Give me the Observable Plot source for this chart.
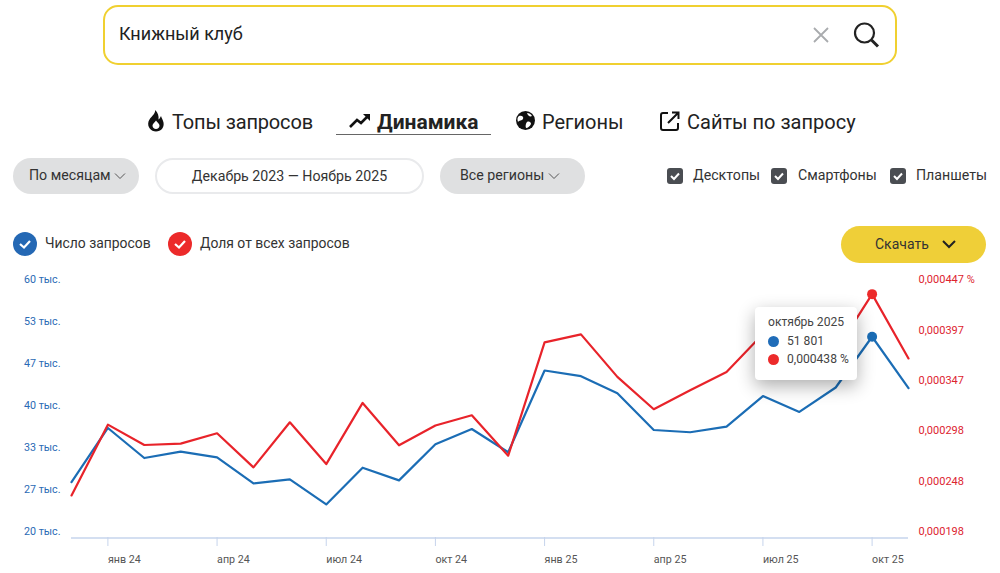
<!DOCTYPE html>
<html lang="ru"><head><meta charset="utf-8">
<script src="https://cdn.jsdelivr.net/npm/d3@7"></script>
<script src="https://cdn.jsdelivr.net/npm/@observablehq/plot@0.6"></script>
<style>
html,body{margin:0;padding:0;background:#fff;width:1000px;height:573px;overflow:hidden;font-family:Roboto,"Noto Sans",sans-serif;color:#222}
#head{position:relative;width:1000px;height:265px}
#wrap{position:relative;width:1000px;height:308px}
#wrap svg{display:block}
.a{position:absolute;white-space:nowrap}
.search{left:103px;top:5px;width:790px;height:56px;border:2px solid #f0d030;border-radius:15px;box-sizing:content-box}
.pill{height:36px;line-height:35px;border-radius:18px;box-sizing:border-box;text-align:center;font-size:14.2px;color:#333}
.gray{background:#dfe0e1}
.white{background:#fff;border:2px solid #e9eaec;line-height:33px}
.tab{font-size:20px;top:109px;line-height:26px;color:#222}
.chk{font-size:14.2px;top:166px;line-height:18px;color:#333}
.box{position:absolute;top:168px;width:16px;height:16px;border-radius:3px;background:#4a4d52}
.lg{top:235px;font-size:13.9px;line-height:16px;color:#333}
.circ{position:absolute;top:232px;width:24px;height:24px;border-radius:50%}
.dl{left:841px;top:226px;width:145px;height:37px;border-radius:19px;background:#efcf38;font-size:14px;line-height:36px;color:#333}
#tip{position:absolute;left:755px;top:42px;width:102px;height:73px;background:#fff;border-radius:4px;box-shadow:0 6px 18px rgba(0,0,0,.32);font-size:12.1px;color:#444}
#tip div{position:absolute;white-space:nowrap}
#tip i{position:absolute;width:11px;height:11px;border-radius:50%}
</style></head><body>
<div id="head">
  <div class="a search"></div>
  <div class="a" style="left:119px;top:22px;font-size:18px;line-height:24px;color:#222">Книжный клуб</div>
  <svg class="a" style="left:812px;top:26px" width="18" height="18" viewBox="0 0 18 18"><path d="M2 2L16 16M16 2L2 16" stroke="#a9abae" stroke-width="1.8"/></svg>
  <svg class="a" style="left:852px;top:21px" width="28" height="28" viewBox="0 0 28 28"><circle cx="12.5" cy="12" r="9.5" fill="none" stroke="#222" stroke-width="2.2"/><path d="M19.5 19L26 25.5" stroke="#222" stroke-width="3"/></svg>

  <svg class="a" style="left:147px;top:110px" width="18" height="22" viewBox="0 0 18 22"><path d="M8 0C9 4 3 7 1.500 11.500C0 17 4 21.500 9 21.500C14 21.500 17.500 17.500 16.500 12.500C16 10 14.500 8 14 6C13 8 12.500 9 11.500 9.500C12 6 11 2.500 8 0ZM9 19C7 19 5.500 17.500 5.500 15.500C5.500 13.500 8 12.500 9 10.500C10 12.500 12.500 13.500 12.500 15.500C12.500 17.500 11 19 9 19Z" fill="#111"/></svg>
  <div class="a tab" style="left:172px;letter-spacing:-.15px">Топы запросов</div>
  <svg class="a" style="left:349px;top:112px" width="22" height="18" viewBox="0 0 22 18"><path d="M1 15L8 8L12 11L19 4" fill="none" stroke="#111" stroke-width="2.600"/><path d="M14 2H21V9Z" fill="#111"/></svg>
  <div class="a tab" style="left:377px;font-weight:700;font-size:21px">Динамика</div>
  <div class="a" style="left:336px;top:134px;width:155px;height:1px;background:#666"></div>
  <svg class="a" style="left:516px;top:111px" width="19" height="19" viewBox="0 0 19 19"><circle cx="9.500" cy="9.500" r="9.500" fill="#111"/><path d="M3 5C6 4 8 6 7 8C6 10 3 9 2 11C1 8 1.500 6 3 5ZM11 11C13 10 15 11 15 13C14 15 12 17 10 17C9 15 10 12 11 11ZM11 2C13 2 15 3 16 5C14 6 12 5 11 2Z" fill="#fff"/></svg>
  <div class="a tab" style="left:542px">Регионы</div>
  <svg class="a" style="left:660px;top:111px" width="20" height="20" viewBox="0 0 20 20"><path d="M8 2H3A2 2 0 0 0 1 4V17A2 2 0 0 0 3 19H16A2 2 0 0 0 18 17V12" fill="none" stroke="#111" stroke-width="2"/><path d="M8 12L18 2M12 1.500H18.500V8" fill="none" stroke="#111" stroke-width="2"/></svg>
  <div class="a tab" style="left:687px">Сайты по запросу</div>

  <div class="a pill gray" style="left:13px;top:158px;width:126px"><span class="a" style="left:16px">По месяцам</span><svg class="a" style="left:101px;top:14px" width="12" height="8" viewBox="0 0 12 8"><path d="M1 1.500L6 6.500L11 1.500" fill="none" stroke="#555" stroke-width="1"/></svg></div>
  <div class="a pill white" style="left:155px;top:158px;width:269px">Декабрь 2023 — Ноябрь 2025</div>
  <div class="a pill gray" style="left:440px;top:158px;width:145px"><span class="a" style="left:20px">Все регионы</span><svg class="a" style="left:108px;top:14px" width="12" height="8" viewBox="0 0 12 8"><path d="M1 1.500L6 6.500L11 1.500" fill="none" stroke="#555" stroke-width="1"/></svg></div>

  <div class="box" style="left:667px"><svg width="16" height="16" viewBox="0 0 16 16"><path d="M4 8L7 11L12 5.500" fill="none" stroke="#fff" stroke-width="2"/></svg></div>
  <div class="a chk" style="left:693px">Десктопы</div>
  <div class="box" style="left:771px"><svg width="16" height="16" viewBox="0 0 16 16"><path d="M4 8L7 11L12 5.500" fill="none" stroke="#fff" stroke-width="2"/></svg></div>
  <div class="a chk" style="left:798px">Смартфоны</div>
  <div class="box" style="left:890px"><svg width="16" height="16" viewBox="0 0 16 16"><path d="M4 8L7 11L12 5.500" fill="none" stroke="#fff" stroke-width="2"/></svg></div>
  <div class="a chk" style="left:916px">Планшеты</div>

  <div class="circ" style="left:13px;background:#2468b4"><svg width="24" height="24" viewBox="0 0 24 24"><path d="M7 12L11 15.500L17 9" fill="none" stroke="#fff" stroke-width="2.200"/></svg></div>
  <div class="a lg" style="left:45px">Число запросов</div>
  <div class="circ" style="left:168px;background:#ec2a2a"><svg width="24" height="24" viewBox="0 0 24 24"><path d="M7 12L11 15.500L17 9" fill="none" stroke="#fff" stroke-width="2.200"/></svg></div>
  <div class="a lg" style="left:200px">Доля от всех запросов</div>
  <div class="a dl"><span style="position:absolute;left:34px">Скачать</span><svg style="position:absolute;left:100px;top:13px" width="16" height="11" viewBox="0 0 16 11"><path d="M2 2L8 8L14 2" fill="none" stroke="#222" stroke-width="2"/></svg></div>
</div>
<div id="wrap"></div>
<script>
const months = ["дек 23","янв 24","фев 24","мар 24","апр 24","май 24","июн 24","июл 24","авг 24","сен 24","окт 24","ноя 24",
  "дек 24","янв 25","фев 25","мар 25","апр 25","май 25","июн 25","июл 25","авг 25","сен 25","окт 25","ноя 25"];
const queries = [28780,37350,32590,33600,32700,28570,29200,25240,31060,29050,34760,37190,
  33500,46450,45560,42860,37030,36670,37570,42400,39890,43760,51801,43650];
const shares = [0.0002395,0.0003093,0.0002892,0.0002906,0.0003008,0.0002672,0.0003116,0.0002704,0.0003307,0.0002889,0.0003084,0.0003185,
  0.0002787,0.0003904,0.0003983,0.0003564,0.0003245,0.0003432,0.0003613,0.0003986,0.0003749,0.0003818,0.000438,0.0003746];
const xTicks = ["янв 24","апр 24","июл 24","окт 24","янв 25","апр 25","июл 25","окт 25"];
const countTicks = [20000,26667,33333,40000,46667,53333,60000];
const countLabels = ["20 тыс.","27 тыс.","33 тыс.","40 тыс.","47 тыс.","53 тыс.","60 тыс."];
const shareTicks = [0.000198,0.000248,0.000298,0.000347,0.000397,0.000447];
const shareLabels = ["0,000198","0,000248","0,000298","0,000347","0,000397","0,000447 %"];
const highlight = "окт 25";
const blue = "#1b6db5", red = "#e8232a";

// The right-hand axis shares the plot height with the left-hand one.
const shareToCount = d3.scaleLinear([0.000198,0.000447],[20000,60000]);
const rows = months.map((m,i)=>({m,count:queries[i],share:shares[i],shareY:shareToCount(shares[i])}));
const hi = rows.filter(d=>d.m===highlight);

const chart = Plot.plot({
  width:1000,height:308,marginTop:19.5,marginBottom:36,marginLeft:71,marginRight:92,
  style:{background:"transparent",fontFamily:"Roboto, 'Noto Sans', sans-serif"},
  x:{type:"point",domain:months,padding:0,round:false},
  y:{domain:[20000,60000]},
  marks:[
    Plot.ruleY([20000],{stroke:"#c6d4ec",strokeWidth:1.5,dy:0.5}),
    Plot.axisY(countTicks,{anchor:"left",tickSize:0,tickPadding:11,dy:-5.7,fontSize:10.7,fill:"#2a6ab5",stroke:"none",
      tickFormat:(d,i)=>countLabels[i],label:null}),
    Plot.axisY(shareTicks.map(shareToCount),{anchor:"right",tickSize:0,tickPadding:10,dy:-5.7,fontSize:11,fill:"#dd2430",stroke:"none",
      tickFormat:(d,i)=>shareLabels[i],label:null}),
    Plot.axisX(xTicks,{tickSize:9,tickPadding:9,fontSize:10.7,fill:"#555",stroke:"#c6d4ec",textAnchor:"start",label:null}),
    Plot.line(rows,{x:"m",y:"count",stroke:blue,strokeWidth:2.2,curve:"linear"}),
    Plot.line(rows,{x:"m",y:"shareY",stroke:red,strokeWidth:2.2,curve:"linear"}),
    Plot.dot(hi,{x:"m",y:"count",r:5,fill:blue,stroke:"none"}),
    Plot.dot(hi,{x:"m",y:"shareY",r:5,fill:"#ec2a2a",stroke:"none"})
  ]
});
const wrap = document.getElementById("wrap");
wrap.appendChild(chart);
const tip = document.createElement("div");
tip.id = "tip";
tip.innerHTML = `<div style="left:13px;top:8px">октябрь 2025</div>
<i style="left:13px;top:29px;background:#1f6cb8"></i><div style="left:32px;top:27px">51 801</div>
<i style="left:13px;top:47px;background:#ec2a2a"></i><div style="left:32px;top:45px">0,000438 %</div>`;
wrap.appendChild(tip);
</script>
</body></html>
